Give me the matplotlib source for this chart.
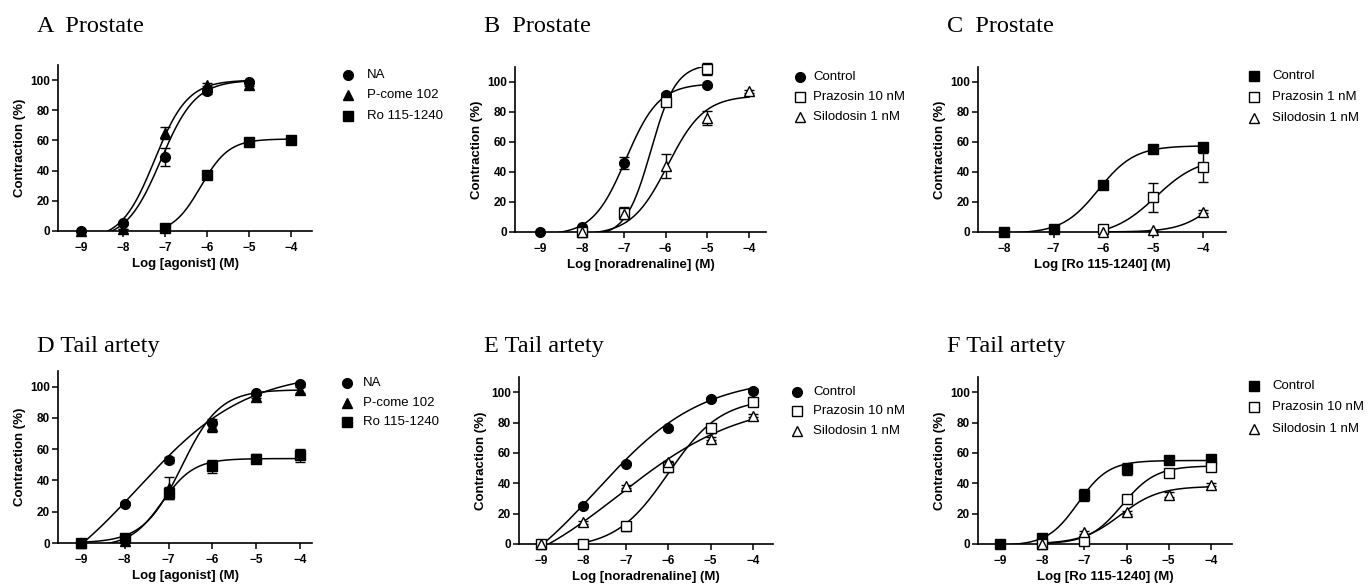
import matplotlib
matplotlib.use("Agg")
import matplotlib.pyplot as plt
import numpy as np
from matplotlib.lines import Line2D

W, H = 1369, 585

plt.rcParams["font.family"] = ["Liberation Sans", "DejaVu Sans"]

# ---- data (log concentration, % contraction, SEM) ----
# fits are (bottom, top, logEC50, hill slope)

# A  Prostate
a_na_x = [-9, -8, -7, -6, -5]
a_na_y = [0, 5, 49, 93, 98.5]
a_na_err = [0, 1, 6, 2, 1]
a_na_fit = (-6, 100, -7.1, 1.05)
a_pc_x = [-9, -8, -7, -6, -5]
a_pc_y = [0, 1, 65, 97, 97]
a_pc_err = [0, 0, 4, 1, 1]
a_pc_fit = (-6, 100, -7.25, 1.1)
a_ro_x = [-7, -6, -5, -4]
a_ro_y = [2, 37, 59, 60]
a_ro_err = [0, 1, 1, 1]
a_ro_fit = (-2, 61, -6.15, 1.3)

# B  Prostate
b_ctl_x = [-9, -8, -7, -6, -5]
b_ctl_y = [0, 3, 46, 91.5, 98]
b_ctl_err = [0, 1, 4, 1, 1]
b_ctl_fit = (-2, 99, -6.95, 1.1)
b_pra_x = [-8, -7, -6, -5]
b_pra_y = [0, 12.7, 86.6, 109]
b_pra_err = [0, 4, 2, 4]
b_pra_fit = (-3, 112, -6.35, 1.45)
b_sil_x = [-8, -7, -6, -5, -4]
b_sil_y = [0, 12, 44, 76, 94]
b_sil_err = [0, 2, 8, 5, 1]
b_sil_fit = (-2, 91, -5.95, 1.0)

# C  Prostate
c_ctl_x = [-8, -7, -6, -5, -4]
c_ctl_y = [0, 2, 31, 55.6, 56.5]
c_ctl_err = [0, 1, 1, 2, 1]
c_ctl_fit = (-1, 57.5, -6.1, 1.2)
c_pra_x = [-6, -5, -4]
c_pra_y = [2, 23, 43]
c_pra_err = [0, 9.5, 9.5]
c_pra_fit = (-3, 50, -4.95, 1.0)
c_sil_x = [-6, -5, -4]
c_sil_y = [0, 1, 13.4]
c_sil_err = [0, 0.5, 1]
c_sil_fit = (0, 40, -3.7, 1.2)

# D  Tail artery
d_na_x = [-9, -8, -7, -6, -5, -4]
d_na_y = [0, 25, 53, 77, 95.7, 102]
d_na_err = [0, 1, 2, 1, 1, 1]
d_na_fit = (-40, 110, -7.7, 0.35)
d_pc_x = [-9, -8, -7, -6, -5, -4]
d_pc_y = [0, 1, 35, 75, 93.6, 98]
d_pc_err = [0, 0, 7, 4, 1, 2]
d_pc_fit = (0, 98, -6.7, 1.0)
d_ro_x = [-9, -8, -7, -6, -5, -4]
d_ro_y = [0, 3, 32, 49, 54, 56]
d_ro_err = [0, 1, 4, 4, 3, 4]
d_ro_fit = (-2, 54, -7.15, 1.2)

# E  Tail artery
e_ctl_x = [-9, -8, -7, -6, -5, -4]
e_ctl_y = [0, 25.2, 52.9, 76.3, 95.6, 101]
e_ctl_err = [0, 1, 1, 1, 1, 1]
e_ctl_fit = (-40, 110, -7.7, 0.35)
e_pra_x = [-9, -8, -7, -6, -5, -4]
e_pra_y = [0, 0, 11.6, 50.7, 76.3, 93.4]
e_pra_err = [0, 0, 3, 3, 3, 1]
e_pra_fit = (-3, 96, -6.0, 0.7)
e_sil_x = [-9, -8, -7, -6, -5, -4]
e_sil_y = [0, 14.3, 38, 53.7, 69.3, 84.4]
e_sil_err = [0, 1, 1, 1, 1, 1]
e_sil_fit = (-30, 95, -7.15, 0.3)

# F  Tail artery
f_ctl_x = [-9, -8, -7, -6, -5, -4]
f_ctl_y = [0, 4, 32.5, 49.3, 55.5, 56]
f_ctl_err = [0, 1, 4, 4, 2, 1]
f_ctl_fit = (-1, 55, -7.15, 1.2)
f_pra_x = [-8, -7, -6, -5, -4]
f_pra_y = [0, 2, 29.6, 47, 50.7]
f_pra_err = [0, 1, 1, 2, 1]
f_pra_fit = (0, 51.5, -6.1, 1.1)
f_sil_x = [-8, -7, -6, -5, -4]
f_sil_y = [0, 7.7, 20.8, 32.5, 39]
f_sil_err = [0, 1, 1, 1.5, 1]
f_sil_fit = (0, 38, -6.15, 0.95)

titles = ["A  Prostate", "B  Prostate", "C  Prostate",
          "D Tail artety", "E Tail artety", "F Tail artety"]
xlabels = ["Log [agonist] (M)", "Log [noradrenaline] (M)", "Log [Ro 115-1240] (M)",
           "Log [agonist] (M)", "Log [noradrenaline] (M)", "Log [Ro 115-1240] (M)"]
agonist_labels = ["NA", "P-come 102", "Ro 115-1240"]
prostate_b_labels = ["Control", "Prazosin 10 nM", "Silodosin 1 nM"]
prostate_c_labels = ["Control", "Prazosin 1 nM", "Silodosin 1 nM"]
tail_f_labels = ["Control", "Prazosin 10 nM", "Silodosin 1 nM"]

# marker styles: (marker, filled, size)
FC = ("o", True, 7)
FT = ("^", True, 7.5)
FS = ("s", True, 7)
OS = ("s", False, 7)
OT = ("^", False, 7.5)

panels = [
    dict(series=[(a_na_x, a_na_y, a_na_err, a_na_fit, FC),
                 (a_pc_x, a_pc_y, a_pc_err, a_pc_fit, FT),
                 (a_ro_x, a_ro_y, a_ro_err, a_ro_fit, FS)],
         labels=agonist_labels, rect=(58, 65, 312, 231), xlim=(-9.55, -3.5),
         xticks=range(-9, -3), legend=(348, 367, [75, 95, 116]), title_x=37, title_y=32),
    dict(series=[(b_ctl_x, b_ctl_y, b_ctl_err, b_ctl_fit, FC),
                 (b_pra_x, b_pra_y, b_pra_err, b_pra_fit, OS),
                 (b_sil_x, b_sil_y, b_sil_err, b_sil_fit, OT)],
         labels=prostate_b_labels, rect=(515, 67, 766, 232), xlim=(-9.6, -3.6),
         xticks=range(-9, -3), legend=(800, 813, [77, 97, 117]), title_x=484, title_y=32),
    dict(series=[(c_ctl_x, c_ctl_y, c_ctl_err, c_ctl_fit, FS),
                 (c_pra_x, c_pra_y, c_pra_err, c_pra_fit, OS),
                 (c_sil_x, c_sil_y, c_sil_err, c_sil_fit, OT)],
         labels=prostate_c_labels, rect=(978, 67, 1226, 232), xlim=(-8.52, -3.54),
         xticks=range(-8, -3), legend=(1254, 1272, [76, 97, 118]), title_x=947, title_y=32),
    dict(series=[(d_na_x, d_na_y, d_na_err, d_na_fit, FC),
                 (d_pc_x, d_pc_y, d_pc_err, d_pc_fit, FT),
                 (d_ro_x, d_ro_y, d_ro_err, d_ro_fit, FS)],
         labels=agonist_labels, rect=(58, 371, 312, 543), xlim=(-9.52, -3.73),
         xticks=range(-9, -3), legend=(347, 363, [383, 403, 422]), title_x=37, title_y=352),
    dict(series=[(e_ctl_x, e_ctl_y, e_ctl_err, e_ctl_fit, FC),
                 (e_pra_x, e_pra_y, e_pra_err, e_pra_fit, OS),
                 (e_sil_x, e_sil_y, e_sil_err, e_sil_fit, OT)],
         labels=prostate_b_labels, rect=(519, 377, 773, 544), xlim=(-9.52, -3.53),
         xticks=range(-9, -3), legend=(797, 813, [392, 411, 431]), title_x=484, title_y=352),
    dict(series=[(f_ctl_x, f_ctl_y, f_ctl_err, f_ctl_fit, FS),
                 (f_pra_x, f_pra_y, f_pra_err, f_pra_fit, OS),
                 (f_sil_x, f_sil_y, f_sil_err, f_sil_fit, OT)],
         labels=tail_f_labels, rect=(978, 377, 1232, 544), xlim=(-9.52, -3.5),
         xticks=range(-9, -3), legend=(1254, 1272, [386, 407, 429]), title_x=947, title_y=352),
]


def hill(x, bottom, top, logec50, slope):
    return bottom + (top - bottom) / (1 + 10 ** ((logec50 - x) * slope))


def marker_kw(style):
    marker, filled, size = style
    return dict(marker=marker, markersize=size, markeredgecolor="black",
                markerfacecolor="black" if filled else "white", markeredgewidth=1.0)


fig = plt.figure(figsize=(W / 100, H / 100), dpi=100)

for i, p in enumerate(panels):
    l, t, r, b = p["rect"]
    ax = fig.add_axes([l / W, 1 - b / H, (r - l) / W, (b - t) / H])

    for x, y, err, fit, style in p["series"]:
        xs = np.linspace(min(x), max(x), 300)
        ax.plot(xs, hill(xs, *fit), color="black", lw=1.1, zorder=2)
        ax.errorbar(x, y, yerr=err, fmt="none", ecolor="black", elinewidth=1.0,
                    capsize=3.5, capthick=1.0, zorder=3, clip_on=False)
        ax.plot(x, y, linestyle="none", zorder=4, clip_on=False, **marker_kw(style))

    ax.set_xlim(*p["xlim"])
    ax.set_ylim(0, 110)
    ax.set_xticks(list(p["xticks"]))
    ax.set_yticks([0, 20, 40, 60, 80, 100])
    for side in ("top", "right"):
        ax.spines[side].set_visible(False)
    for side in ("left", "bottom"):
        ax.spines[side].set_linewidth(1.2)
    ax.tick_params(direction="out", length=4, width=1.1, labelsize=8.5)
    ax.tick_params(axis="x", pad=4)
    ax.tick_params(axis="y", pad=2)
    plt.setp(ax.get_xticklabels() + ax.get_yticklabels(), fontweight="bold")
    ax.set_xlabel(xlabels[i], fontsize=9.5, fontweight="bold", labelpad=3)
    ax.set_ylabel("Contraction (%)", fontsize=9.5, fontweight="bold", labelpad=3)

    fig.text(p["title_x"] / W, 1 - p["title_y"] / H, titles[i],
             family=["Liberation Serif", "DejaVu Serif"], fontsize=17.5, va="baseline")

    mx, tx, ys = p["legend"]
    for (x, y, err, fit, style), label, ly in zip(p["series"], p["labels"], ys):
        fig.add_artist(Line2D([mx / W], [1 - ly / H], transform=fig.transFigure,
                              linestyle="none", **marker_kw(style)))
        fig.text(tx / W, 1 - ly / H, label, fontsize=9.5, va="center", ha="left")

fig.savefig("out.png", dpi=100)
